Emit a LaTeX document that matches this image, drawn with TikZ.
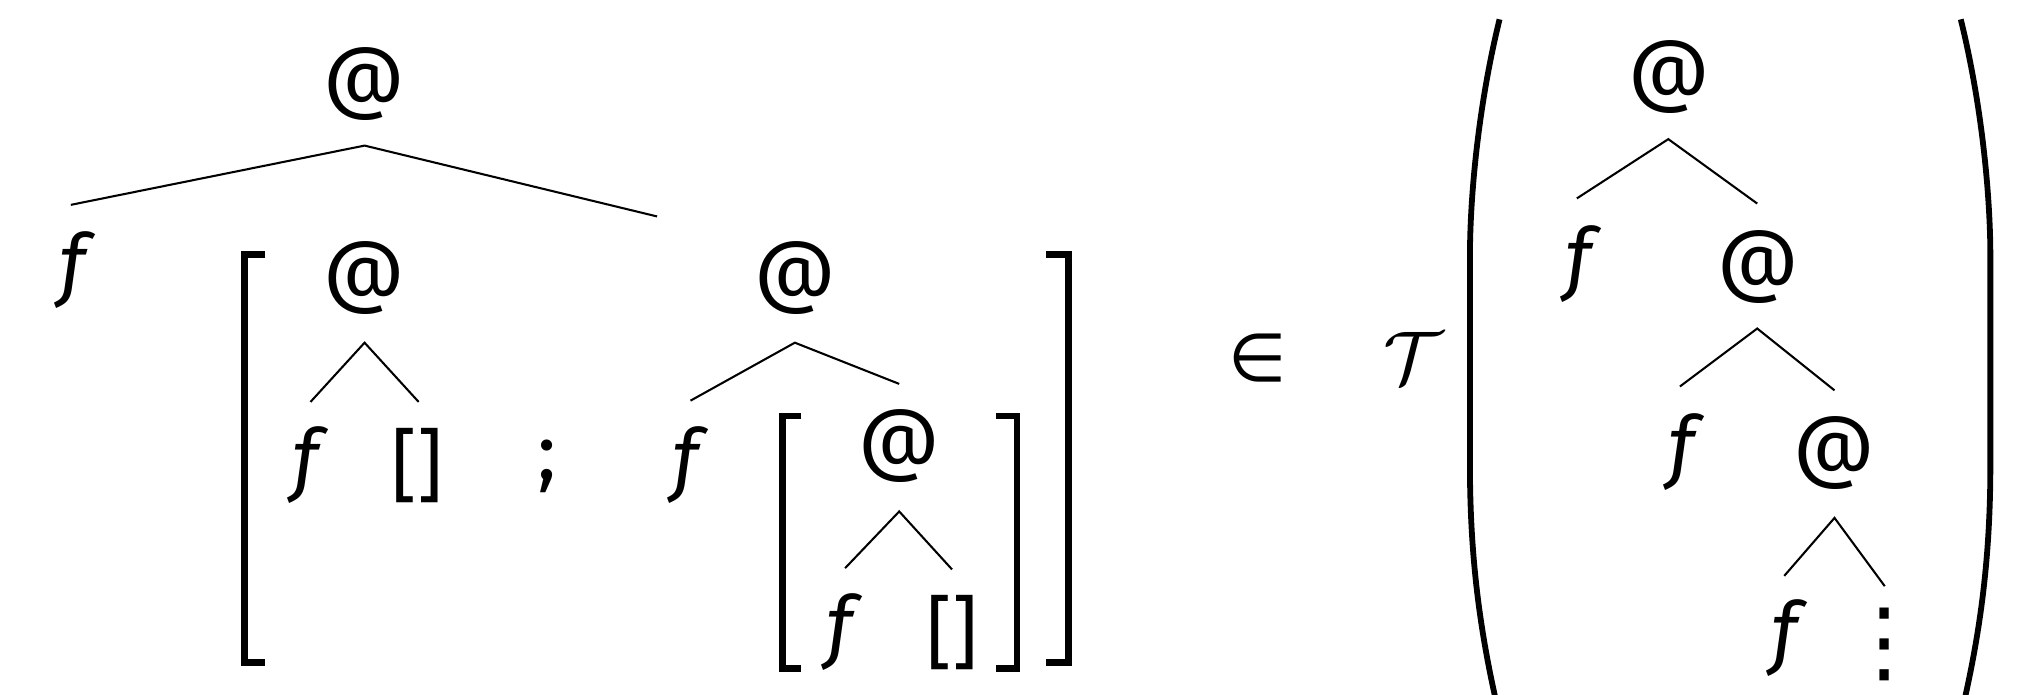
\documentclass[tikz,border=0pt]{standalone}
\usepackage{fontspec}
\setmainfont{Fira Sans}
\newfontfamily\dvfont{DejaVu Sans}
\begin{document}
\begin{tikzpicture}[x=1pt,y=-1pt,
  sym/.style={inner sep=0pt, font=\fontsize{62}{70}\selectfont},
  var/.style={inner sep=0pt, font=\fontsize{62}{70}\selectfont\itshape},
  edge/.style={line width=1.6pt, line cap=butt},
  brk/.style={line width=5.5pt, line join=miter, line cap=butt},
  ibrk/.style={line width=5pt, line join=miter, line cap=butt},
  paren/.style={line width=4.5pt}]
\clip (0,0) rectangle (1568,539);
\fill[white] (0,0) rectangle (1568,539);
% top tree
\node[sym] (t1) at (283,65) {@};
\node[var] (t1f) at (56,210) {f};
\coordinate (t1a) at (283,113);
\coordinate (t1l) at (55,159);
\coordinate (t1r) at (510,168);
\draw[edge] (t1l) -- (t1a) -- (t1r);
% big list brackets
\coordinate (bl1) at (206,197.5); \coordinate (bl2) at (189.5,197.5);
\coordinate (bl3) at (189.5,514.5); \coordinate (bl4) at (206,514.5);
\draw[brk] (bl1) -- (bl2) -- (bl3) -- (bl4);
\coordinate (br1) at (812,197.5); \coordinate (br2) at (829.5,197.5);
\coordinate (br3) at (829.5,514.5); \coordinate (br4) at (812,514.5);
\draw[brk] (br1) -- (br2) -- (br3) -- (br4);
% first element
\node[sym] (a1) at (283,216) {@};
\coordinate (a1a) at (283,266);
\coordinate (a1l) at (241,312);
\coordinate (a1r) at (325,312);
\draw[edge] (a1l) -- (a1a) -- (a1r);
\node[var] (a1f) at (237,361) {f};
\node[sym] (a1h) at (324,361) {[]};
\node[sym] (semi) at (425,362) {;};
% second element
\node[sym] (a2) at (617,216) {@};
\coordinate (a2a) at (617,266);
\coordinate (a2l) at (536,311);
\coordinate (a2r) at (698,298);
\draw[edge] (a2l) -- (a2a) -- (a2r);
\node[var] (a2f) at (532,361) {f};
% inner brackets
\coordinate (il1) at (622,323); \coordinate (il2) at (607.5,323);
\coordinate (il3) at (607.5,519); \coordinate (il4) at (622,519);
\draw[ibrk] (il1) -- (il2) -- (il3) -- (il4);
\coordinate (ir1) at (773,323); \coordinate (ir2) at (789.5,323);
\coordinate (ir3) at (789.5,519); \coordinate (ir4) at (773,519);
\draw[ibrk] (ir1) -- (ir2) -- (ir3) -- (ir4);
\node[sym] (a3) at (698,346) {@};
\coordinate (a3a) at (698,397);
\coordinate (a3l) at (656,441);
\coordinate (a3r) at (739,442);
\draw[edge] (a3l) -- (a3a) -- (a3r);
\node[var] (a3f) at (652,491) {f};
\node[sym] (a3h) at (739,491) {[]};
% membership
\node[inner sep=0pt, font=\dvfont\fontsize{52}{60}\selectfont] (in) at (976,278) {∈};
\node[inner sep=0pt] (T) at (1097,278) {\scalebox{5.8}{$\mathcal{T}$}};
% big parentheses
\coordinate (pl1) at (1164,15); \coordinate (pl2) at (1141,200);
\coordinate (pl3) at (1141,360); \coordinate (pl4) at (1165,560);
\draw[paren] (pl1) .. controls (1148,80) and (1141,150) .. (pl2) -- (pl3) .. controls (1141,430) and (1148,490) .. (pl4);
\coordinate (pr1) at (1522,15); \coordinate (pr2) at (1545,200);
\coordinate (pr3) at (1545,360); \coordinate (pr4) at (1521,560);
\draw[paren] (pr1) .. controls (1538,80) and (1545,150) .. (pr2) -- (pr3) .. controls (1545,430) and (1538,490) .. (pr4);
% right tree
\node[sym] (r1) at (1296,60) {@};
\coordinate (r1a) at (1295,108);
\coordinate (r1l) at (1224,154);
\coordinate (r1r) at (1364,158);
\draw[edge] (r1l) -- (r1a) -- (r1r);
\node[var] (r1f) at (1225,205) {f};
\node[sym] (r2) at (1365,207) {@};
\coordinate (r2a) at (1364,255);
\coordinate (r2l) at (1304,300);
\coordinate (r2r) at (1424,303);
\draw[edge] (r2l) -- (r2a) -- (r2r);
\node[var] (r2f) at (1305,351) {f};
\node[sym] (r3) at (1424,352) {@};
\coordinate (r3a) at (1424,402);
\coordinate (r3l) at (1385,447);
\coordinate (r3r) at (1463,455);
\draw[edge] (r3l) -- (r3a) -- (r3r);
\node[var] (r3f) at (1385,495) {f};
\node[inner sep=0pt, font=\dvfont\fontsize{70}{76}\selectfont] (dots) at (1463,500) {⋮};
\end{tikzpicture}
\end{document}
